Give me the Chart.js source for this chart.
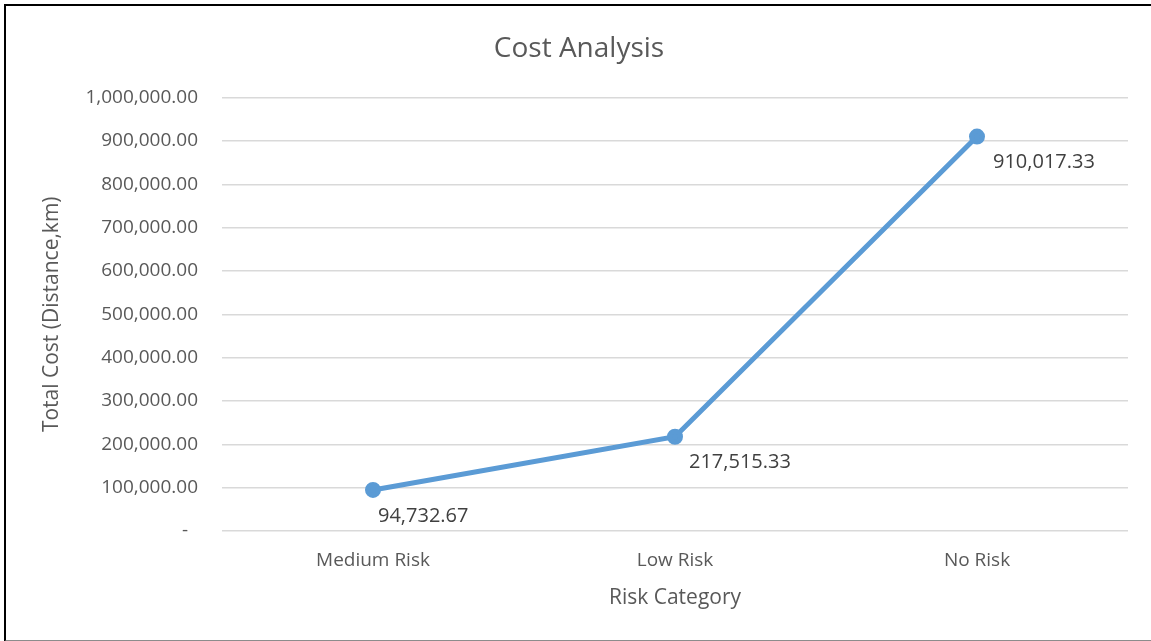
<!DOCTYPE html>
<html>
<head>
<meta charset="utf-8">
<title>Cost Analysis</title>
<script src="https://cdn.jsdelivr.net/npm/chart.js@4"></script>
<style>
  body { margin: 0; background: #fff; }
  #wrap { position: relative; width: 1151px; height: 641px; }
  #frame {
    position: absolute; left: 4px; top: 4px; width: 1200px; height: 634px;
    border-left: 2px solid #000; border-top: 2px solid #000; border-bottom: 2px solid #8c8c8c;
    pointer-events: none;
  }
</style>
</head>
<body>
<div id="wrap">
  <canvas id="chart" width="1151" height="641"></canvas>
  <div id="frame"></div>
</div>
<script>
const categories = ['Medium Risk', 'Low Risk', 'No Risk'];
const totalCost = [94732.67, 217515.33, 910017.33];
const labelShiftX = [5, 14, 16];   // Excel-ish label placement, right of / below each point

const textColor = '#595959';
const fontFamily = '"Open Sans", "Liberation Sans", sans-serif';

function fmt(v) {
    return v.toLocaleString('en-US', { minimumFractionDigits: 2, maximumFractionDigits: 2 });
}

// draw the value labels under each point
const valueLabels = {
    id: 'valueLabels',
    afterDatasetsDraw(chart) {
        const ctx = chart.ctx;
        const meta = chart.getDatasetMeta(0);
        ctx.save();
        ctx.font = '20px ' + fontFamily;
        ctx.fillStyle = '#404040';
        ctx.textAlign = 'left';
        ctx.textBaseline = 'middle';
        meta.data.forEach(function(pt, i) {
            ctx.fillText(fmt(totalCost[i]), pt.x + labelShiftX[i], pt.y + 26);
        });
        ctx.restore();
    }
};

const ctx = document.getElementById('chart').getContext('2d');
new Chart(ctx, {
    type: 'line',
    data: {
        labels: categories,
        datasets: [{
            label: 'Total Cost',
            data: totalCost,
            borderColor: '#5B9BD5',
            backgroundColor: '#5B9BD5',
            borderWidth: 5,
            pointRadius: 5.5,
            pointHoverRadius: 5.5,
            tension: 0
        }]
    },
    options: {
        responsive: false,
        animation: false,
        layout: { padding: { left: 30, right: 23, top: 22, bottom: 20 } },
        plugins: {
            legend: { display: false },
            tooltip: { enabled: false },
            title: {
                display: true,
                text: 'Cost Analysis',
                color: textColor,
                font: { family: fontFamily, size: 28, weight: 'normal' },
                padding: { top: 10, bottom: 32 }
            }
        },
        scales: {
            x: {
                offset: true,
                grid: { display: false, drawTicks: false },
                border: { display: false },
                ticks: { color: textColor, font: { family: fontFamily, size: 19 }, padding: 18 },
                title: {
                    display: true, text: 'Risk Category', color: textColor,
                    font: { family: fontFamily, size: 21 }, padding: { top: 8, bottom: 10 }
                },
                afterFit(scale) { scale.height = 90; }
            },
            y: {
                min: 0,
                max: 1000000,
                ticks: {
                    stepSize: 100000,
                    color: textColor,
                    font: { family: fontFamily, size: 19 },
                    padding: 24,
                    callback: v => v === 0 ? '-  ' : fmt(v)
                },
                grid: { color: '#d9d9d9', lineWidth: 1.5, drawTicks: false },
                border: { display: false },
                title: {
                    display: true, text: 'Total Cost (Distance,km)', color: textColor,
                    font: { family: fontFamily, size: 21 }, padding: { top: 9, bottom: 0 }
                },
                afterFit(scale) { scale.width = 192; }
            }
        }
    },
    plugins: [valueLabels]
});
</script>
</body>
</html>
